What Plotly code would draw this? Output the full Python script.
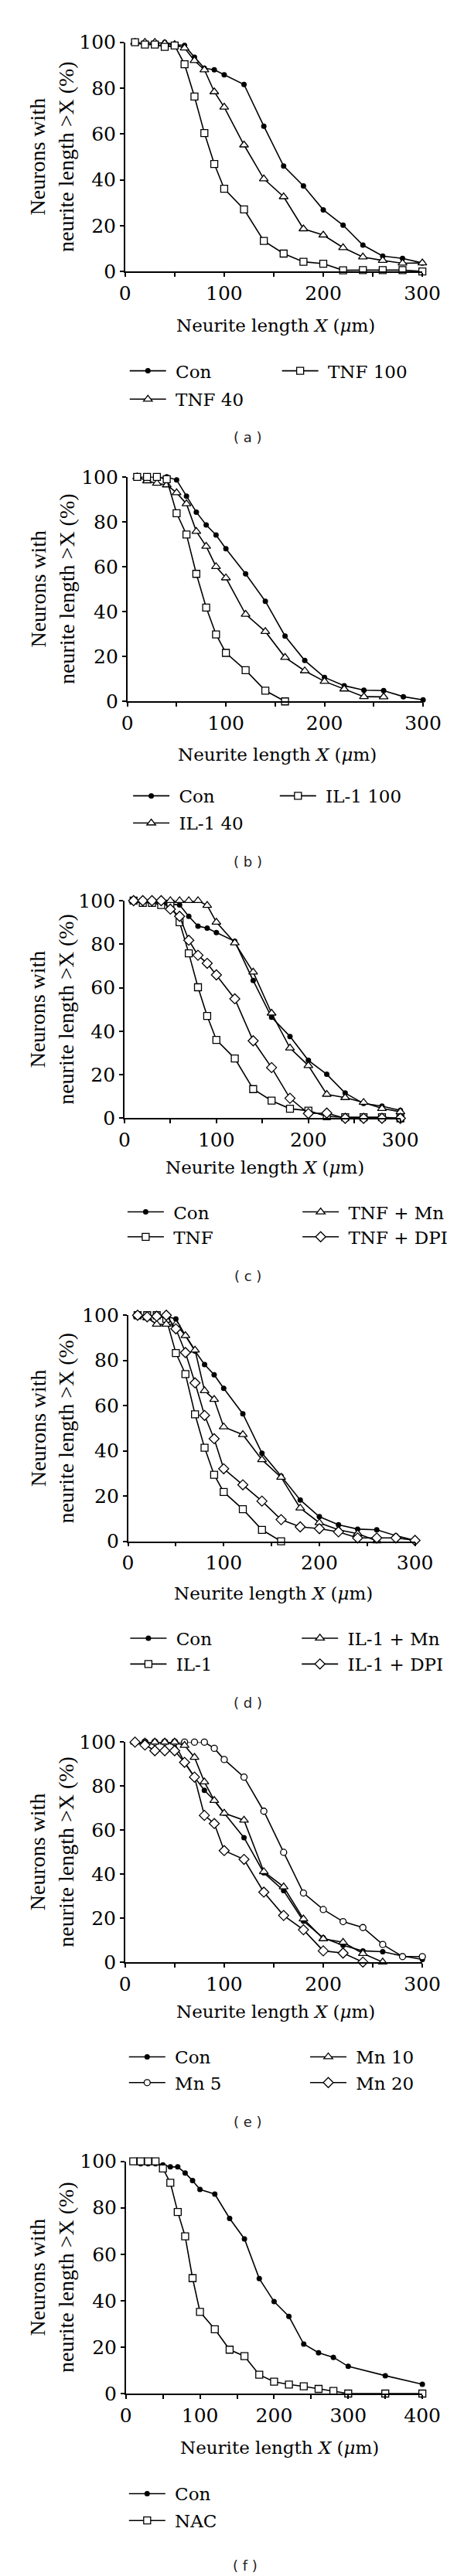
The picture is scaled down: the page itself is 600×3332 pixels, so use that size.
import plotly.graph_objects as go

W, H = 600, 3332
SERIF_T = "Liberation Serif"
SERIF = "DejaVu Serif"

# ---------------- data ----------------
x_std = [10, 20, 30, 40, 50, 60, 70, 80, 90, 100, 120, 140, 160, 180, 200, 220, 240, 260, 280, 300]
x_to260 = x_std[:18]
x_to240 = x_std[:17]
x_to160 = x_std[:13]
x_f = x_std + [350, 400]

# (a)
a_con = [100, 100, 100, 100, 99, 98.6, 93.5, 88.7, 88, 85.8, 81.6, 63.4, 46, 37.3, 26.9, 20.2, 11.5, 6.7, 5.7, 3.7]
a_tnf40 = [100, 100, 100, 99.5, 99, 97.5, 92, 88, 78.4, 71.7, 55.2, 40.4, 32.6, 18.6, 15.9, 10.4, 6.3, 4.8, 3.6, 3.7]
a_tnf100 = [100, 99, 99, 98, 98.6, 90.4, 76.3, 60.4, 46.9, 36.1, 27.1, 13.3, 7.8, 4.2, 3.4, 0.5, 0.6, 0.6, 0.6, 0]
# (b)
b_con = [100, 100, 100, 100, 98.6, 91.4, 84.3, 78.6, 74.1, 68, 56.8, 44.6, 29.1, 18.2, 10.7, 7, 5, 4.8, 2.1, 0.7]
b_il40 = [100, 98.2, 97.1, 96.4, 92.9, 88, 75.7, 69.1, 60, 55, 38.8, 31.1, 19.6, 13.6, 8.9, 5.5, 2.1, 2]
b_il100 = [100, 100, 100, 98.9, 83.8, 74.3, 56.8, 41.8, 29.8, 21.6, 13.9, 4.8, 0]
# (c)
c_con = [100, 99.5, 99, 99, 98.5, 98, 92.8, 88.3, 87.4, 85.3, 81.3, 63.3, 46.4, 37.6, 26.6, 20.2, 11.6, 6.8, 5.6, 3.6]
c_tnf = [100, 99, 99, 98, 98.6, 90.1, 75.8, 60.2, 47, 36, 27.5, 13.4, 8.1, 4.4, 3.5, 0.9, 0.5, 0.5, 0.5, 0]
c_tnfmn = [100, 100, 100, 100, 100, 100, 100, 100, 97.8, 90.1, 80.6, 67.2, 48.3, 32.3, 24.2, 11, 9.5, 7.3, 4.5, 3]
c_tnfdpi = [100, 100, 100, 100, 96.1, 92.8, 81.8, 74.9, 71.2, 65.9, 54.9, 35.6, 23.3, 9.2, 2.2, 2.4, 0, 0, 0, 0]
# (d)
d_con = [100, 100, 100, 99.5, 98.4, 91, 84.2, 78.2, 73.7, 67.7, 56.4, 39, 28.9, 18.3, 10.9, 7.3, 5.4, 5.1, 2.5, 0.4]
d_il1 = [100, 100, 100, 98.4, 83.3, 74, 56.2, 41.4, 29.4, 21.8, 14.2, 5.1, 0]
d_il1mn = [100, 98.9, 96, 96, 96, 91, 84.6, 66.6, 62.8, 50.6, 47.2, 36.1, 28.3, 14.7, 8.2, 5.1, 3.4, 0.2]
d_il1dpi = [100, 99.3, 99.6, 100, 94, 83.5, 70.1, 55.7, 45.4, 32.1, 25, 17.8, 9.6, 6.4, 5.6, 4.2, 1.5, 1.5, 1.5, 0.4]
# (e)
e_con = [100, 100, 100, 100, 99.4, 90.8, 84.1, 78.1, 73.5, 67.7, 56.6, 40.6, 32.5, 18.6, 11, 7.6, 5.1, 4.7, 2.8, 1.2]
e_mn5 = [100, 100, 100, 100, 100, 100, 100, 100, 97.2, 92.1, 84.1, 68.6, 49.9, 31.4, 23.9, 18.4, 15.7, 8, 2.5, 2.5]
e_mn10 = [100, 100, 100, 100, 100, 98.5, 93.1, 81.9, 73.5, 67.7, 64.5, 41.1, 34.2, 19.6, 10.6, 9, 3.9, 0]
e_mn20 = [100, 98.7, 96.1, 96.1, 96.1, 90.8, 84.1, 66.7, 63, 50.7, 46.7, 31.8, 21.2, 14.7, 5.1, 4.1, 0]
# (f)
f_con = [100, 99, 99, 99, 98.5, 97.6, 97.6, 95, 91.7, 87.9, 85.9, 75.4, 66.6, 49.5, 39.6, 33.2, 21.3, 17.6, 15.6, 11.7, 7.7, 4]
f_nac = [100, 100, 100, 100, 96.9, 90.8, 78.2, 67.7, 49.7, 35.2, 27.7, 18.9, 16.1, 8.1, 5.1, 3.9, 3.1, 2, 1.1, 0, 0, 0]

y_ticks = [0, 20, 40, 60, 80, 100]
y_title = "Neurons with<br>neurite length >X (%)"
x_title = "Neurite length <i>X</i> (<i>\u03bc</i>m)"

# ---------------- styles ----------------
STY = {
    "dot": dict(symbol="circle", size=7, color="black", line=dict(color="black", width=0)),
    "sq": dict(symbol="square", size=9, color="white", line=dict(color="black", width=1.3)),
    "tri": dict(symbol="triangle-up", size=10, color="white", line=dict(color="black", width=1.3)),
    "dia": dict(symbol="diamond", size=10, color="white", line=dict(color="black", width=1.3)),
    "circ": dict(symbol="circle", size=8, color="white", line=dict(color="black", width=1.3)),
}

# series: (name, x, y, style, legend column, legend row)
panels = [
    dict(label="( a )", x0=154, x1=560, yt=33, yb=332, xmax=300,
         tx=360, ty=402, lab=(322, 548), rows=(460, 497), cols=(160, 368),
         series=[("Con", x_std, a_con, "dot", 0, 0), ("TNF 40", x_std, a_tnf40, "tri", 0, 1),
                 ("TNF 100", x_std, a_tnf100, "sq", 1, 0)]),
    dict(label="( b )", x0=157, x1=561, yt=600, yb=893, xmax=300,
         tx=362, ty=962, lab=(322, 1102), rows=(1014.6, 1050), cols=(164.6, 365),
         series=[("Con", x_std, b_con, "dot", 0, 0), ("IL-1 40", x_to260, b_il40, "tri", 0, 1),
                 ("IL-1 100", x_to160, b_il100, "sq", 1, 0)]),
    dict(label="( c )", x0=153, x1=530, yt=1153, yb=1437, xmax=300,
         tx=345, ty=1501.5, lab=(322, 1643), rows=(1557.5, 1590), cols=(157, 396),
         series=[("Con", x_std, c_con, "dot", 0, 0), ("TNF", x_std, c_tnf, "sq", 0, 1),
                 ("TNF + Mn", x_std, c_tnfmn, "tri", 1, 0), ("TNF + DPI", x_std, c_tnfdpi, "dia", 1, 1)]),
    dict(label="( d )", x0=158, x1=550, yt=1694, yb=1989, xmax=300,
         tx=356, ty=2057, lab=(322, 2200), rows=(2113.7, 2147.4), cols=(160.7, 395),
         series=[("Con", x_std, d_con, "dot", 0, 0), ("IL-1", x_to160, d_il1, "sq", 0, 1),
                 ("IL-1 + Mn", x_to260, d_il1mn, "tri", 1, 0), ("IL-1 + DPI", x_std, d_il1dpi, "dia", 1, 1)]),
    dict(label="( e )", x0=154, x1=560, yt=2251, yb=2538, xmax=300,
         tx=360, ty=2603, lab=(322, 2746), rows=(2660, 2693.6), cols=(159, 406.4),
         series=[("Con", x_std, e_con, "dot", 0, 0), ("Mn 5", x_std, e_mn5, "circ", 0, 1),
                 ("Mn 10", x_to260, e_mn10, "tri", 1, 0), ("Mn 20", x_to240, e_mn20, "dia", 1, 1)]),
    dict(label="( f )", x0=155, x1=560, yt=2798, yb=3101, xmax=400,
         tx=365, ty=3172, lab=(318, 3325), rows=(3230, 3265), cols=(159, 400),
         series=[("Con", x_f, f_con, "dot", 0, 0), ("NAC", x_f, f_nac, "sq", 0, 1)]),
]

ITEMW = 47
LEG_FONT = 23
TICK_FONT = 25

fig = go.Figure()
layout = dict(width=W, height=H, margin=dict(l=0, r=0, t=0, b=0),
              paper_bgcolor="white", plot_bgcolor="white", showlegend=True)
annotations = []
legend_idx = 0

for i, p in enumerate(panels):
    n = "" if i == 0 else str(i + 1)
    xa, ya = "x" + n, "y" + n
    xkey, ykey = "xaxis" + n, "yaxis" + n
    tv = list(range(0, p["xmax"] + 1, 50))
    tt = [str(v) if v % 100 == 0 else "" for v in tv]
    common = dict(showline=True, linecolor="black", linewidth=1.5,
                  ticks="outside", ticklen=5, tickwidth=1.5, tickcolor="black",
                  showgrid=False, zeroline=False, fixedrange=True,
                  tickfont=dict(family=SERIF, size=TICK_FONT, color="black"))
    layout[xkey] = dict(domain=[p["x0"] / W, p["x1"] / W], anchor=ya, range=[0, p["xmax"]],
                        tickvals=tv, ticktext=tt, **common)
    layout[ykey] = dict(domain=[1 - p["yb"] / H, 1 - p["yt"] / H], anchor=xa, range=[0, 100],
                        tickvals=y_ticks, **common)

    for (name, xs, ys, sty, col, row) in p["series"]:
        legend_idx += 1
        lname = "legend" if legend_idx == 1 else "legend" + str(legend_idx)
        layout[lname] = dict(
            x=(p["cols"][col] - 5) / W, xanchor="left",
            y=1 - (p["rows"][row] - 20) / H, yanchor="top",
            orientation="v", bgcolor="rgba(0,0,0,0)", borderwidth=0,
            itemwidth=ITEMW,
            font=dict(family=SERIF, size=LEG_FONT, color="black"),
            itemclick=False, itemdoubleclick=False, tracegroupgap=0)
        fig.add_trace(go.Scatter(
            x=xs, y=ys, mode="lines+markers", name="\u00a0" + name,
            xaxis=xa, yaxis=ya, legend=lname, cliponaxis=False,
            line=dict(color="black", width=1.6), marker=STY[sty]))

    yc = (p["yt"] + p["yb"]) / 2
    annotations.append(dict(text=y_title, x=54 / W, y=1 - yc / H, xref="paper", yref="paper",
                            xanchor="center", yanchor="middle", textangle=-90, showarrow=False,
                            font=dict(family=SERIF_T, size=28, color="black")))
    annotations.append(dict(text=x_title, x=p["tx"] / W, y=1 - p["ty"] / H, xref="paper", yref="paper",
                            xanchor="center", yanchor="middle", showarrow=False,
                            font=dict(family=SERIF, size=23, color="black")))
    annotations.append(dict(text=p["label"], x=p["lab"][0] / W, y=1 - p["lab"][1] / H,
                            xref="paper", yref="paper", xanchor="center", yanchor="middle",
                            showarrow=False, font=dict(family="DejaVu Sans", size=18, color="#222")))

layout["annotations"] = annotations
fig.update_layout(**layout)
fig.write_html("out.html")
